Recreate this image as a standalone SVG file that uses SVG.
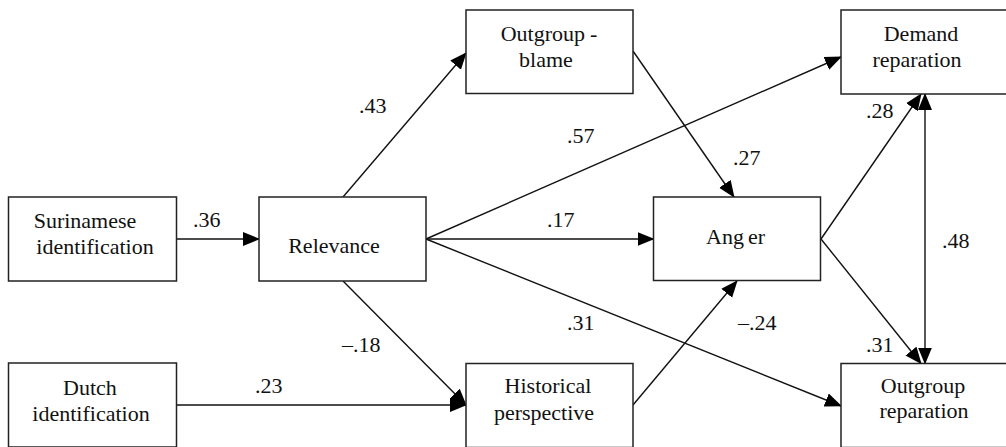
<svg xmlns="http://www.w3.org/2000/svg" width="1006" height="447" viewBox="0 0 1006 447">
<style>
.box{fill:#fff;stroke:#222;stroke-width:1.5}
text{font-size:22px;fill:#111}
.t{text-anchor:middle}
.c{stroke:#111;stroke-width:1.4;fill:none;marker-end:url(#ah)}
</style>
<defs>
<marker id="ah" markerUnits="userSpaceOnUse" markerWidth="17" markerHeight="15" refX="16" refY="7" orient="auto-start-reverse" viewBox="0 0 17 14">
<path d="M0,0 L17,7 L0,14 z" fill="#000"/>
</marker>
</defs>
<rect width="1006" height="447" fill="#fff"/>
<g font-family="'Liberation Serif', 'Times New Roman', 'DejaVu Serif', serif">
<g id="connectors">
<line class="c" x1="176" y1="239" x2="259" y2="239"/>
<line class="c" x1="343" y1="197" x2="466" y2="53"/>
<line class="c" x1="426" y1="239" x2="841" y2="57"/>
<line class="c" x1="426" y1="239" x2="653.5" y2="239"/>
<line class="c" x1="426" y1="239" x2="841" y2="406"/>
<line class="c" x1="343" y1="281" x2="466" y2="405"/>
<line class="c" x1="176" y1="405" x2="466" y2="405"/>
<line class="c" x1="633" y1="51" x2="734" y2="197"/>
<line class="c" x1="633" y1="405" x2="737" y2="281"/>
<line class="c" x1="821" y1="239" x2="921" y2="94"/>
<line class="c" x1="821" y1="239" x2="921" y2="363.5"/>
<line class="c" x1="925" y1="94" x2="925" y2="363.5" style="marker-start:url(#ah)"/>
<text x="193" y="227">.36</text>
<text x="359" y="113">.43</text>
<text x="567" y="143">.57</text>
<text x="547" y="227">.17</text>
<text x="733" y="165">.27</text>
<text x="567" y="330">.31</text>
<text x="342" y="352">–.18</text>
<text x="255" y="393">.23</text>
<text x="738" y="330">–.24</text>
<text x="866" y="118">.28</text>
<text x="866" y="352">.31</text>
<text x="942" y="248">.48</text>
</g>
<g id="surinamese">
<rect class="box" x="8.5" y="197" width="168" height="84"/>
<text class="t" x="85" y="228">Surinamese</text>
<text class="t" x="95" y="254">identification</text>
</g>
<g id="relevance">
<rect class="box" x="259" y="197" width="167" height="84"/>
<text class="t" x="334" y="253">Relevance</text>
</g>
<g id="dutch">
<rect class="box" x="8.5" y="363" width="168" height="84"/>
<text class="t" x="90" y="395">Dutch</text>
<text class="t" x="91" y="421">identification</text>
</g>
<g id="outgroup-blame">
<rect class="box" x="466" y="10" width="167" height="83.5"/>
<text class="t" x="549" y="41">Outgroup<tspan dx="5">-</tspan></text>
<text class="t" x="546" y="67">blame</text>
</g>
<g id="historical">
<rect class="box" x="466" y="363.5" width="167" height="84"/>
<text class="t" x="548" y="393">Historical</text>
<text class="t" x="544" y="420">perspective</text>
</g>
<g id="anger">
<rect class="box" x="653.5" y="197" width="167" height="83.5"/>
<text class="t" x="735.5" y="244">Ang<tspan dx="4">er</tspan></text>
</g>
<g id="demand">
<rect class="box" x="841" y="10" width="167" height="84"/>
<text class="t" x="921" y="41">Demand</text>
<text class="t" x="917" y="67">reparation</text>
</g>
<g id="outgroup-reparation">
<rect class="box" x="841" y="363.5" width="167" height="84"/>
<text class="t" x="923" y="393">Outgroup</text>
<text class="t" x="924" y="418">reparation</text>
</g>
</g>
</svg>
